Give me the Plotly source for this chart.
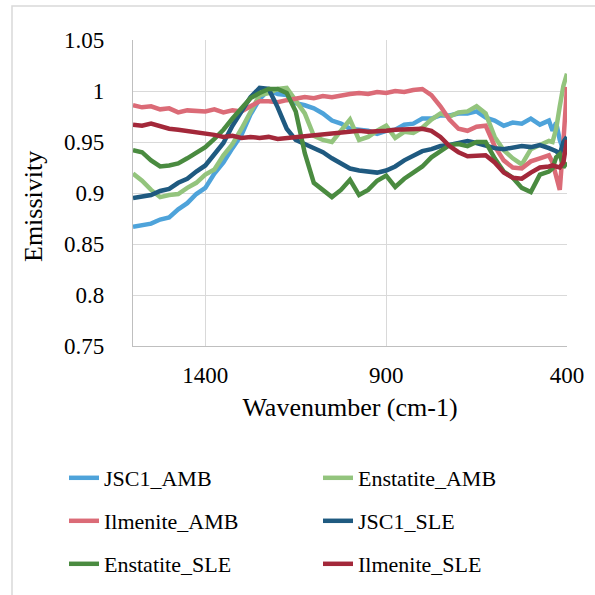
import plotly.graph_objects as go

# Wavenumber grid (cm-1)
wavenumber = [1600, 1575, 1550, 1525, 1500, 1475, 1450, 1425, 1400, 1375,
              1350, 1325, 1300, 1275, 1250, 1225, 1200, 1175, 1150, 1125,
              1100, 1075, 1050, 1025, 1000, 975, 950, 925, 900, 875,
              850, 825, 800, 775, 750, 725, 700, 675, 650, 625,
              600, 575, 550, 525, 500, 475, 450, 440, 430, 420, 410, 400]

jsc1_amb = [0.867, 0.869, 0.870, 0.874, 0.876, 0.884, 0.890, 0.899, 0.905, 0.919,
            0.930, 0.944, 0.957, 0.977, 0.992, 1.001, 0.997, 0.996, 0.988, 0.986,
            0.983, 0.978, 0.971, 0.968, 0.963, 0.962, 0.961, 0.958, 0.961, 0.962,
            0.967, 0.968, 0.973, 0.973, 0.976, 0.976, 0.978, 0.978, 0.980, 0.974,
            0.971, 0.966, 0.969, 0.968, 0.973, 0.967, 0.971, 0.961, 0.969, 0.952,
            0.942, 0.945]

enstatite_amb = [0.919, 0.912, 0.903, 0.896, 0.898, 0.899, 0.905, 0.910, 0.918, 0.923,
                 0.937, 0.948, 0.963, 0.980, 0.996, 0.998, 1.002, 1.003, 0.990, 0.978,
                 0.956, 0.952, 0.950, 0.961, 0.972, 0.952, 0.955, 0.961, 0.966, 0.954,
                 0.960, 0.959, 0.964, 0.972, 0.978, 0.975, 0.979, 0.980, 0.985, 0.978,
                 0.955, 0.942, 0.934, 0.928, 0.943, 0.947, 0.951, 0.950, 0.963, 0.985,
                 1.005, 1.017]

ilmenite_amb = [0.986, 0.984, 0.985, 0.982, 0.983, 0.979, 0.981, 0.981, 0.980, 0.982,
                0.979, 0.981, 0.980, 0.985, 0.990, 0.990, 0.989, 0.991, 0.992, 0.994,
                0.993, 0.995, 0.994, 0.996, 0.997, 0.998, 0.997, 0.999, 0.998, 1.000,
                0.999, 1.001, 1.002, 0.996, 0.985, 0.972, 0.963, 0.961, 0.965, 0.966,
                0.946, 0.932, 0.925, 0.924, 0.931, 0.934, 0.937, 0.930, 0.918, 0.903,
                0.950, 1.004]

jsc1_sle = [0.895, 0.896, 0.898, 0.902, 0.904, 0.910, 0.914, 0.921, 0.927, 0.938,
            0.949, 0.966, 0.981, 0.994, 1.003, 1.002, 0.984, 0.963, 0.952, 0.948,
            0.944, 0.940, 0.934, 0.929, 0.924, 0.922, 0.921, 0.920, 0.922, 0.926,
            0.932, 0.936, 0.941, 0.943, 0.946, 0.947, 0.949, 0.951, 0.949, 0.946,
            0.944, 0.943, 0.944, 0.946, 0.945, 0.947, 0.944, 0.943, 0.941, 0.938,
            0.950, 0.955]

enstatite_sle = [0.942, 0.940, 0.932, 0.926, 0.927, 0.929, 0.934, 0.939, 0.945, 0.953,
                 0.962, 0.973, 0.983, 0.993, 0.998, 1.002, 1.002, 0.998, 0.980, 0.939,
                 0.910, 0.903, 0.896, 0.903, 0.913, 0.898, 0.903, 0.912, 0.917, 0.906,
                 0.914, 0.920, 0.926, 0.935, 0.941, 0.947, 0.948, 0.946, 0.950, 0.950,
                 0.934, 0.921, 0.915, 0.905, 0.901, 0.918, 0.921, 0.924, 0.935, 0.938,
                 0.925, 0.930]

ilmenite_sle = [0.967, 0.966, 0.968, 0.965, 0.963, 0.962, 0.961, 0.960, 0.958, 0.957,
                0.955, 0.956, 0.954, 0.955, 0.954, 0.955, 0.953, 0.954, 0.955, 0.955,
                0.956, 0.957, 0.958, 0.959, 0.960, 0.961, 0.960, 0.960, 0.961, 0.962,
                0.962, 0.963, 0.963, 0.961, 0.955, 0.946, 0.940, 0.936, 0.936, 0.937,
                0.930, 0.920, 0.915, 0.914, 0.920, 0.925, 0.926, 0.927, 0.926, 0.925,
                0.930, 0.952]

series_names = ["JSC1_AMB", "Enstatite_AMB", "Ilmenite_AMB",
                "JSC1_SLE", "Enstatite_SLE", "Ilmenite_SLE"]
series_values = [jsc1_amb, enstatite_amb, ilmenite_amb,
                 jsc1_sle, enstatite_sle, ilmenite_sle]
series_colors = ["#4EA3DA", "#93C47D", "#DB6B77", "#1F5A80", "#4A8B40", "#A3283A"]
series_legends = ["legend", "legend", "legend2", "legend2", "legend3", "legend3"]

x_tick_vals = [1400, 900, 400]
y_tick_vals = [0.75, 0.8, 0.85, 0.9, 0.95, 1.0, 1.05]
y_tick_text = ["0.75", "0.8", "0.85", "0.9", "0.95", "1", "1.05"]

FONT = "Liberation Serif"
W, H = 595, 595
L, R, T, B = 133, 567, 40, 346
PW, PH = R - L, B - T


def px(xp):
    return (xp - L) / PW


def py(yp):
    return (B - yp) / PH


fig = go.Figure()
for name, vals, col, lg in zip(series_names, series_values, series_colors, series_legends):
    assert len(vals) == len(wavenumber)
    fig.add_trace(go.Scatter(x=wavenumber, y=vals, mode="lines", name=name,
                             line=dict(color=col, width=4.5), legend=lg))

legend_common = dict(orientation="h", xref="paper", yref="paper",
                     xanchor="left", yanchor="middle", entrywidth=209,
                     entrywidthmode="pixels", font=dict(family=FONT, size=22, color="black"),
                     bgcolor="rgba(0,0,0,0)", borderwidth=0)
lx = px(64)

fig.update_layout(
    width=W, height=H,
    margin=dict(l=L, r=W - R, t=T, b=H - B, autoexpand=False),
    paper_bgcolor="white", plot_bgcolor="white",
    font=dict(family=FONT, color="black"),
    legend=dict(x=lx, y=py(478), **legend_common),
    legend2=dict(x=lx, y=py(521), **legend_common),
    legend3=dict(x=lx, y=py(564), **legend_common),
    xaxis=dict(range=[1600, 400], tickvals=x_tick_vals, showgrid=True,
               gridcolor="#d9d9d9", gridwidth=1.3, showline=True, linecolor="#bfbfbf",
               linewidth=1.3, ticks="outside", ticklen=8, tickcolor="rgba(0,0,0,0)",
               tickfont=dict(size=23), zeroline=False,
               title=dict(text="Wavenumber (cm-1)", font=dict(size=26), standoff=11)),
    yaxis=dict(range=[0.75, 1.05], tickvals=y_tick_vals, ticktext=y_tick_text,
               showgrid=True, gridcolor="#d9d9d9", gridwidth=1.3, showline=True,
               linecolor="#bfbfbf", linewidth=1.3, ticks="outside", ticklen=23,
               tickcolor="rgba(0,0,0,0)", tickfont=dict(size=23), zeroline=False),
)

# y-axis title
fig.add_annotation(text="Emissivity", xref="paper", yref="paper",
                   x=px(33), y=py(207), textangle=-90,
                   showarrow=False, font=dict(size=26, family=FONT, color="black"),
                   xanchor="center", yanchor="middle")

# chart frame (cropped Excel chart border)
fig.add_shape(type="rect", xref="paper", yref="paper",
              x0=px(12), x1=px(610), y0=py(610), y1=py(6),
              line=dict(color="#d9d9d9", width=1.5), fillcolor="rgba(0,0,0,0)", layer="below")

fig.write_html("out.html", config={"displayModeBar": False},
               post_script="document.body.style.margin='0';")
